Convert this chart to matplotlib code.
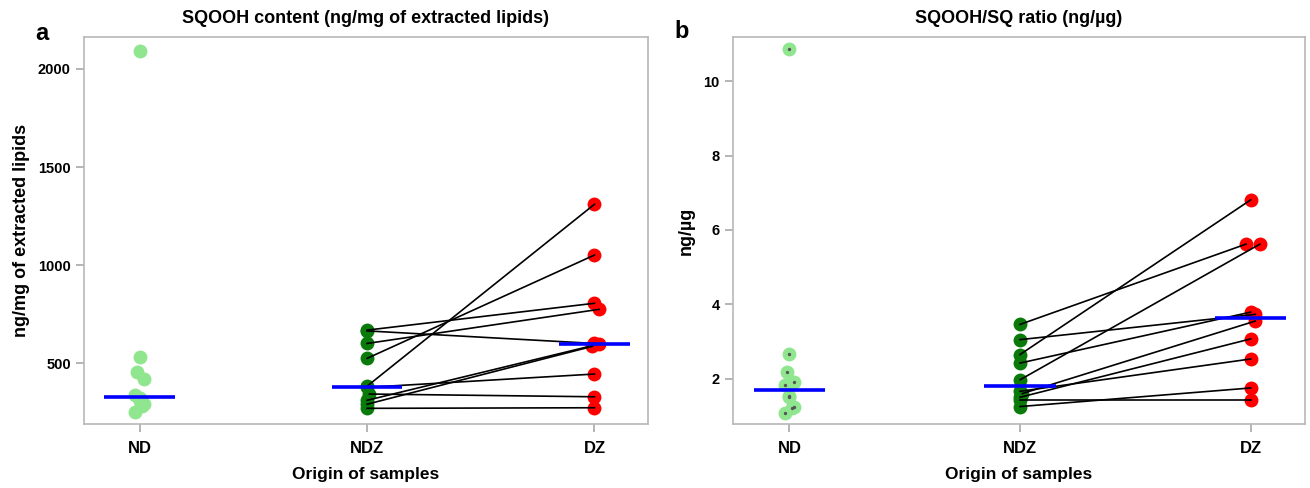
import matplotlib.pyplot as plt
import numpy as np

plt.rcParams['font.family'] = ['Liberation Sans', 'DejaVu Sans']
plt.rcParams['font.weight'] = 'bold'

groups = ["ND", "NDZ", "DZ"]

# panel a: SQOOH content (ng/mg of extracted lipids)
a_nd = [2090, 529, 452, 417, 337, 320, 305, 290, 281, 252]
a_ndz = [668, 664, 600, 524, 382, 376, 342, 310, 290, 269]
a_dz = [805, 600, 774, 1051, 1310, 444, 328, 597, 585, 272]

# panel b: SQOOH/SQ ratio (ng/µg)
b_nd = [10.86, 2.67, 2.18, 1.91, 1.84, 1.54, 1.5, 1.25, 1.2, 1.08]
b_ndz = [3.46, 3.05, 2.65, 2.42, 1.97, 1.66, 1.6, 1.5, 1.43, 1.25]
b_dz = [5.62, 3.73, 6.81, 3.79, 5.62, 2.53, 3.55, 3.07, 1.43, 1.75]

jit_nd = [0, 0, -0.01, 0.02, -0.02, 0.0, 0.0, 0.02, 0.01, -0.02]
jit_ndz = [0.0, 0.0, 0, 0, 0.0, 0.0, 0.01, 0.0, 0.0, 0.0]
jit_dz_a = [0, 0.0, 0.02, 0, 0, 0, 0, 0.02, -0.01, 0]
jit_dz_b = [-0.02, 0.02, 0, 0, 0.04, 0, 0.02, 0, 0, 0]

c_nd = '#8fe68f'
c_ndz = '#0a7a0a'
c_dz = '#ff0000'

fig = plt.figure(figsize=(13.1, 4.88), dpi=100)
ax1 = fig.add_axes([0.0641, 0.1311, 0.4305, 0.793])
ax2 = fig.add_axes([0.5595, 0.1311, 0.4366, 0.793])


def panel(ax, nd, ndz, dz, jdz, title, ylabel, ylim, yticks):
    nd = np.array(nd)
    ndz = np.array(ndz)
    dz = np.array(dz)
    xn = 0 + np.array(jit_nd)
    xz = 1 + np.array(jit_ndz)
    xd = 2 + np.array(jdz)
    for i in range(len(ndz)):
        ax.plot([xz[i], xd[i]], [ndz[i], dz[i]], color='black', lw=1.2, zorder=2)
    ax.scatter(xn, nd, s=100, color=c_nd, zorder=3, linewidths=0)
    ax.scatter(xz, ndz, s=100, color=c_ndz, zorder=1, linewidths=0)
    ax.scatter(xd, dz, s=100, color=c_dz, zorder=1, linewidths=0)
    for k, v in enumerate([nd, ndz, dz]):
        m = np.median(v)
        ax.plot([k - 0.155, k + 0.155], [m, m], color='#0000ff', lw=2.6, zorder=4,
                solid_capstyle='butt')
    ax.set_xlim(-0.245, 2.235)
    ax.set_ylim(*ylim)
    ax.set_yticks(yticks)
    ax.set_xticks([0, 1, 2])
    ax.set_xticklabels(groups)
    ax.set_title(title, fontsize=13, fontweight='bold', pad=10)
    ax.set_ylabel(ylabel, fontsize=13, fontweight='bold', labelpad=6)
    ax.set_xlabel("Origin of samples", fontsize=12.5, fontweight='bold', labelpad=8)
    for s in ax.spines.values():
        s.set_color('#b8b8b8')
        s.set_linewidth(1.2)
    ax.tick_params(colors='#a0a0a0', labelcolor='black', length=6, width=1.1,
                   labelsize=10.5)
    ax.tick_params(axis='x', labelsize=12, pad=6)


panel(ax1, a_nd, a_ndz, a_dz, jit_dz_a, "SQOOH content (ng/mg of extracted lipids)",
      "ng/mg of extracted lipids", (189, 2163), [500, 1000, 1500, 2000])
panel(ax2, b_nd, b_ndz, b_dz, jit_dz_b, "SQOOH/SQ ratio (ng/µg)",
      "ng/µg", (0.78, 11.19), [2, 4, 6, 8, 10])

# small dark centres on the ND dots of panel b, as in the original
ax2.scatter(np.array(jit_nd), b_nd, s=2, color='#555555', zorder=5)

fig.text(0.027, 0.918, "a", fontsize=17, fontweight='bold')
fig.text(0.515, 0.923, "b", fontsize=17, fontweight='bold')

fig.savefig("out.png", dpi=100)
